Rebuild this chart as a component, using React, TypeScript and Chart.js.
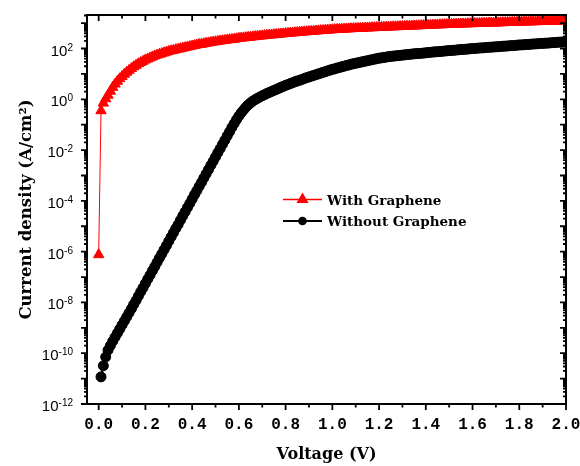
import React, { useEffect, useRef } from 'react';
import { Chart, registerables } from 'chart.js';

Chart.register(...registerables);

// Bias sweep (V)
const voltage = [
  0.0, 0.01, 0.02, 0.03, 0.04, 0.05, 0.06, 0.07, 0.08, 0.09,
  0.1, 0.11, 0.12, 0.13, 0.14, 0.15, 0.16, 0.17, 0.18, 0.19,
  0.2, 0.21, 0.22, 0.23, 0.24, 0.25, 0.26, 0.27, 0.28, 0.29,
  0.3, 0.31, 0.32, 0.33, 0.34, 0.35, 0.36, 0.37, 0.38, 0.39,
  0.4, 0.41, 0.42, 0.43, 0.44, 0.45, 0.46, 0.47, 0.48, 0.49,
  0.5, 0.51, 0.52, 0.53, 0.54, 0.55, 0.56, 0.57, 0.58, 0.59,
  0.6, 0.61, 0.62, 0.63, 0.64, 0.65, 0.66, 0.67, 0.68, 0.69,
  0.7, 0.71, 0.72, 0.73, 0.74, 0.75, 0.76, 0.77, 0.78, 0.79,
  0.8, 0.81, 0.82, 0.83, 0.84, 0.85, 0.86, 0.87, 0.88, 0.89,
  0.9, 0.91, 0.92, 0.93, 0.94, 0.95, 0.96, 0.97, 0.98, 0.99,
  1.0, 1.01, 1.02, 1.03, 1.04, 1.05, 1.06, 1.07, 1.08, 1.09,
  1.1, 1.11, 1.12, 1.13, 1.14, 1.15, 1.16, 1.17, 1.18, 1.19,
  1.2, 1.21, 1.22, 1.23, 1.24, 1.25, 1.26, 1.27, 1.28, 1.29,
  1.3, 1.31, 1.32, 1.33, 1.34, 1.35, 1.36, 1.37, 1.38, 1.39,
  1.4, 1.41, 1.42, 1.43, 1.44, 1.45, 1.46, 1.47, 1.48, 1.49,
  1.5, 1.51, 1.52, 1.53, 1.54, 1.55, 1.56, 1.57, 1.58, 1.59,
  1.6, 1.61, 1.62, 1.63, 1.64, 1.65, 1.66, 1.67, 1.68, 1.69,
  1.7, 1.71, 1.72, 1.73, 1.74, 1.75, 1.76, 1.77, 1.78, 1.79,
  1.8, 1.81, 1.82, 1.83, 1.84, 1.85, 1.86, 1.87, 1.88, 1.89,
  1.9, 1.91, 1.92, 1.93, 1.94, 1.95, 1.96, 1.97, 1.98, 1.99,
  2.0,
];

// Current density with graphene (A/cm²)
const withGraphene = [
  7.6e-7, 0.355, 0.708, 1.05, 1.45, 2.09, 2.95, 3.98, 5.13, 6.46,
  7.94, 9.77, 11.7, 13.8, 16.2, 19.1, 21.9, 25.1, 28.2, 31.6,
  35.5, 38.9, 42.7, 46.8, 51.3, 55.0, 58.9, 63.1, 67.6, 72.4,
  77.6, 81.3, 85.1, 90.2, 94.4, 98.9, 104, 108, 114, 120,
  126, 132, 138, 145, 148, 155, 162, 166, 174, 180,
  186, 191, 200, 204, 209, 216, 224, 229, 234, 243,
  251, 257, 263, 269, 275, 282, 288, 295, 302, 309,
  316, 323, 330, 337, 344, 351, 358, 366, 373, 381,
  389, 396, 404, 411, 419, 427, 435, 443, 451, 459,
  468, 475, 483, 491, 499, 507, 515, 524, 532, 541,
  550, 556, 562, 569, 575, 582, 589, 596, 603, 610,
  617, 622, 628, 634, 640, 646, 652, 658, 664, 670,
  676, 682, 689, 695, 702, 708, 715, 721, 728, 734,
  741, 748, 755, 762, 769, 776, 783, 791, 798, 805,
  813, 820, 828, 836, 843, 851, 859, 867, 875, 883,
  891, 897, 903, 910, 916, 922, 929, 935, 942, 948,
  955, 961, 968, 975, 981, 988, 995, 1002, 1009, 1016,
  1023, 1030, 1037, 1045, 1052, 1059, 1067, 1074, 1081, 1089,
  1096, 1102, 1109, 1115, 1122, 1128, 1135, 1141, 1148, 1154,
  1161, 1168, 1174, 1181, 1188, 1195, 1202, 1209, 1216, 1223,
  1230,
];

// Current density without graphene (A/cm²); no reading at 0 V
const withoutGraphene = [
  null, 1.17e-11, 3.2e-11, 7.1e-11, 1.32e-10, 2.0e-10, 2.95e-10, 4.27e-10, 6.17e-10, 8.9e-10,
  1.29e-9, 1.86e-9, 2.69e-9, 3.89e-9, 5.62e-9, 8.32e-9, 1.2e-8, 1.78e-8, 2.63e-8, 3.8e-8,
  5.62e-8, 8.32e-8, 1.2e-7, 1.78e-7, 2.57e-7, 3.8e-7, 5.62e-7, 8.13e-7, 1.2e-6, 1.74e-6,
  2.57e-6, 3.8e-6, 5.5e-6, 8.13e-6, 1.17e-5, 1.74e-5, 2.57e-5, 3.72e-5, 5.5e-5, 7.94e-5,
  1.17e-4, 1.74e-4, 2.51e-4, 3.72e-4, 5.37e-4, 7.94e-4, 1.17e-3, 1.7e-3, 2.51e-3, 3.63e-3,
  5.37e-3, 7.94e-3, 1.15e-2, 1.7e-2, 2.45e-2, 3.63e-2, 5.25e-2, 7.76e-2, 0.112, 0.158,
  0.219, 0.295, 0.38, 0.49, 0.603, 0.724, 0.851, 0.977, 1.1, 1.23,
  1.38, 1.51, 1.7, 1.86, 2.04, 2.24, 2.45, 2.69, 2.95, 3.24,
  3.55, 3.8, 4.17, 4.47, 4.9, 5.25, 5.62, 6.03, 6.61, 7.08,
  7.59, 8.13, 8.71, 9.33, 10.0, 10.7, 11.5, 12.3, 13.2, 14.1,
  15.1, 15.8, 17.0, 17.8, 19.1, 20.0, 21.4, 22.4, 24.0, 25.1,
  26.3, 27.5, 28.8, 30.2, 31.6, 33.1, 34.7, 36.3, 38.0, 39.8,
  41.7, 42.7, 44.7, 45.7, 47.9, 49.0, 50.1, 51.3, 52.5, 53.7,
  55.0, 56.2, 57.5, 58.9, 60.3, 61.7, 63.1, 64.0, 64.6, 66.1,
  67.6, 69.2, 70.8, 72.4, 74.1, 75.0, 75.9, 77.6, 79.4, 81.3,
  83.2, 84.1, 85.1, 87.1, 89.1, 91.2, 92.0, 93.3, 95.5, 97.7,
  100, 101, 102, 105, 106, 107, 110, 112, 113, 115,
  117, 118, 120, 123, 124, 126, 129, 130, 132, 135,
  138, 139, 141, 144, 145, 148, 151, 152, 155, 158,
  159, 162, 163, 166, 170, 171, 174, 178, 179, 182,
  186,
];

const seriesNames = ['With Graphene', 'Without Graphene'];
const seriesColors = ['#ff0000', '#000000'];

const xMajorTicks = [0, 0.2, 0.4, 0.6, 0.8, 1.0, 1.2, 1.4, 1.6, 1.8, 2.0];
const xTickLabels = ['0.0', '0.2', '0.4', '0.6', '0.8', '1.0', '1.2', '1.4', '1.6', '1.8', '2.0'];
const xMinorTicks = [0.1, 0.3, 0.5, 0.7, 0.9, 1.1, 1.3, 1.5, 1.7, 1.9];
const yDecades = [-12, -11, -10, -9, -8, -7, -6, -5, -4, -3, -2, -1, 0, 1, 2, 3];
const yLabelExponents = [-12, -10, -8, -6, -4, -2, 0, 2];

const xTitle = 'Voltage (V)';
const yTitle = 'Current density (A/cm²)';

function drawMarker(ctx: CanvasRenderingContext2D, style: string, x: number, y: number, r: number) {
  ctx.beginPath();
  if (style === 'triangle') {
    let rad = 0;
    const step = (2 * Math.PI) / 3;
    ctx.moveTo(x + Math.sin(rad) * r, y - Math.cos(rad) * r);
    rad += step;
    ctx.lineTo(x + Math.sin(rad) * r, y - Math.cos(rad) * r);
    rad += step;
    ctx.lineTo(x + Math.sin(rad) * r, y - Math.cos(rad) * r);
    ctx.closePath();
  } else {
    ctx.arc(x, y, r, 0, Math.PI * 2);
  }
  ctx.fill();
}

const axesPlugin = {
  id: 'boxedAxes',
  afterDraw(chart: any) {
    const { ctx, chartArea: a, scales } = chart;
    const xs = scales.x;
    const ys = scales.y;
    ctx.save();
    ctx.strokeStyle = '#000';
    ctx.fillStyle = '#000';

    // frame
    ctx.lineWidth = 2;
    ctx.strokeRect(a.left, a.top, a.right - a.left, a.bottom - a.top);

    // x ticks: outward at the bottom, inward at the top
    ctx.lineWidth = 1.8;
    ctx.beginPath();
    xMajorTicks.forEach((v) => {
      const px = xs.getPixelForValue(v);
      ctx.moveTo(px, a.bottom);
      ctx.lineTo(px, a.bottom + 6);
      ctx.moveTo(px, a.top);
      ctx.lineTo(px, a.top + 6);
    });
    xMinorTicks.forEach((v) => {
      const px = xs.getPixelForValue(v);
      ctx.moveTo(px, a.bottom);
      ctx.lineTo(px, a.bottom + 3.5);
      ctx.moveTo(px, a.top);
      ctx.lineTo(px, a.top + 3.5);
    });
    // y ticks: outward on the left, inward on the right
    yDecades.forEach((d) => {
      const base = Math.pow(10, d);
      if (base >= ys.min && base <= ys.max) {
        const py = ys.getPixelForValue(base);
        ctx.moveTo(a.left - 6, py);
        ctx.lineTo(a.left, py);
        ctx.moveTo(a.right - 6, py);
        ctx.lineTo(a.right, py);
      }
      for (let k = 2; k <= 9; k++) {
        const v = k * base;
        if (v <= ys.min || v >= ys.max) continue;
        const py = ys.getPixelForValue(v);
        ctx.moveTo(a.left - 3, py);
        ctx.lineTo(a.left, py);
        ctx.moveTo(a.right - 3, py);
        ctx.lineTo(a.right, py);
      }
    });
    ctx.stroke();

    // x tick labels
    ctx.font = 'bold 16px "Liberation Mono"';
    ctx.textAlign = 'center';
    ctx.textBaseline = 'alphabetic';
    xMajorTicks.forEach((v, i) => {
      ctx.fillText(xTickLabels[i], xs.getPixelForValue(v), a.bottom + 25);
    });

    // y tick labels as powers of ten
    ctx.textAlign = 'right';
    const labelRight = a.left - 14;
    yLabelExponents.forEach((e) => {
      const py = ys.getPixelForValue(Math.pow(10, e));
      const exp = e < 0 ? '-' + Math.abs(e) : String(e);
      ctx.font = '10px "Liberation Sans"';
      const w = ctx.measureText(exp).width;
      ctx.fillText(exp, labelRight, py + 2);
      ctx.font = '15px "Liberation Sans"';
      ctx.fillText('10', labelRight - w, py + 7);
    });

    // axis titles
    ctx.font = 'bold 16px "DejaVu Serif"';
    ctx.textAlign = 'center';
    ctx.fillText(xTitle, (a.left + a.right) / 2, 459);
    ctx.save();
    ctx.font = 'bold 16.5px "DejaVu Serif"';
    ctx.translate(31, (a.top + a.bottom) / 2);
    ctx.rotate(-Math.PI / 2);
    ctx.fillText(yTitle, 0, 0);
    ctx.restore();

    // legend
    const rows = [
      { y: 199.5, style: 'triangle', r: 7, lw: 1.5 },
      { y: 221, style: 'circle', r: 4.3, lw: 2 },
    ];
    ctx.font = 'bold 13.5px "DejaVu Serif"';
    ctx.textAlign = 'left';
    rows.forEach((row, i) => {
      ctx.strokeStyle = seriesColors[i];
      ctx.fillStyle = seriesColors[i];
      ctx.lineWidth = row.lw;
      ctx.beginPath();
      ctx.moveTo(283, row.y);
      ctx.lineTo(322, row.y);
      ctx.stroke();
      drawMarker(ctx, row.style, 302.5, row.y, row.r);
      ctx.fillStyle = '#000';
      ctx.fillText(seriesNames[i], 327, row.y + 5);
    });

    ctx.restore();
  },
};

export default function App() {
  const canvasRef = useRef<HTMLCanvasElement>(null);

  useEffect(() => {
    const canvas = canvasRef.current;
    if (!canvas) return;
    const chart = new Chart(canvas, {
      type: 'line',
      data: {
        datasets: [
          {
            label: seriesNames[0],
            data: voltage.map((v, i) => ({ x: v, y: withGraphene[i] })),
            borderColor: seriesColors[0],
            backgroundColor: seriesColors[0],
            borderWidth: 1,
            pointStyle: 'triangle',
            pointRadius: 6,
            pointBorderWidth: 1,
            pointBackgroundColor: seriesColors[0],
            pointBorderColor: seriesColors[0],
            tension: 0,
          },
          {
            label: seriesNames[1],
            data: voltage.map((v, i) => ({ x: v, y: withoutGraphene[i] })),
            borderColor: seriesColors[1],
            backgroundColor: seriesColors[1],
            borderWidth: 2,
            pointStyle: 'circle',
            pointRadius: 5,
            pointBorderWidth: 1,
            pointBackgroundColor: seriesColors[1],
            pointBorderColor: seriesColors[1],
            tension: 0,
          },
        ],
      },
      options: {
        animation: false,
        responsive: false,
        events: [],
        layout: { padding: { left: 87, right: 14, top: 15, bottom: 62 } },
        scales: {
          x: { type: 'linear', min: -0.05, max: 2.0, display: false },
          y: { type: 'logarithmic', min: 1e-12, max: 2090, display: false },
        },
        plugins: {
          legend: { display: false },
          tooltip: { enabled: false },
        },
      },
      plugins: [axesPlugin],
    } as any);
    return () => chart.destroy();
  }, []);

  return (
    <div style={{ position: 'absolute', left: 0, top: 0, width: 580, height: 466, background: '#fff' }}>
      <canvas ref={canvasRef} width={580} height={466} style={{ display: 'block' }} />
    </div>
  );
}
